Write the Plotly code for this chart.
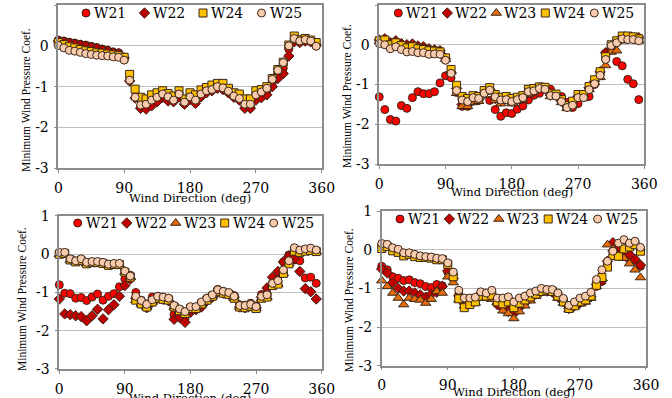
import plotly.graph_objects as go

# ---------------- data ----------------
wind_dir = [0, 7.5, 15, 22.5, 30, 37.5, 45, 52.5, 60, 67.5, 75, 82.5,
            90, 97.5, 105, 112.5, 120, 127.5, 135, 142.5, 150, 157.5, 165, 172.5,
            180, 187.5, 195, 202.5, 210, 217.5, 225, 232.5, 240, 247.5, 255, 262.5,
            270, 277.5, 285, 292.5, 300, 307.5, 315, 322.5, 330, 337.5, 345, 352.5]

x_ticks = [0, 90, 180, 270, 360]
y_ticks = [-3, -2, -1, 0, 1]
y_tick_labels = ["-3", "-2", "-1", "0", "1"]
series_names = ["W21", "W22", "W23", "W24", "W25"]

# Panel 1 (top-left)
p1_W21 = [0.14, 0.12, 0.09, 0.07, 0.04, 0.02, -0.01, -0.04, -0.08, -0.11, -0.15, -0.17, -0.28,
          -0.85, -1.26, -1.48, -1.50, -1.40, -1.32, -1.22, -1.30, -1.35, -1.22, -1.40, -1.28,
          -1.37, -1.22, -1.12, -1.08, -1.02, -1.05, -1.13, -1.24, -1.31, -1.48, -1.48, -1.27,
          -1.20, -1.12, -0.90, -0.70, -0.55, -0.08, 0.12, 0.10, 0.14, 0.11, 0.00]
p1_W22 = [0.11, 0.09, 0.06, 0.04, 0.01, -0.01, -0.04, -0.07, -0.10, -0.13, -0.17, -0.19, -0.30,
          -0.86, -1.28, -1.53, -1.55, -1.47, -1.37, -1.26, -1.35, -1.37, -1.25, -1.43, -1.31,
          -1.41, -1.25, -1.15, -1.10, -1.04, -1.07, -1.15, -1.26, -1.33, -1.53, -1.53, -1.33,
          -1.27, -1.20, -1.00, -0.80, -0.68, -0.25, 0.10, 0.08, 0.12, 0.10, 0.02]
p1_W24 = [0.08, 0.03, -0.02, -0.05, -0.09, -0.12, -0.14, -0.17, -0.18, -0.20, -0.22, -0.24, -0.28,
          -0.70, -1.06, -1.26, -1.30, -1.20, -1.15, -1.10, -1.17, -1.23, -1.10, -1.30, -1.15,
          -1.20, -1.08, -1.02, -0.96, -0.92, -0.92, -1.04, -1.15, -1.18, -1.30, -1.30, -1.10,
          -1.07, -1.00, -0.80, -0.58, -0.40, 0.02, 0.24, 0.15, 0.18, 0.14, 0.08]
p1_W25 = [0.01, -0.05, -0.11, -0.13, -0.16, -0.19, -0.21, -0.23, -0.24, -0.25, -0.27, -0.28, -0.35,
          -0.84, -1.26, -1.45, -1.43, -1.33, -1.26, -1.18, -1.25, -1.33, -1.18, -1.38, -1.25,
          -1.33, -1.18, -1.10, -1.07, -1.00, -1.03, -1.11, -1.23, -1.29, -1.43, -1.43, -1.20,
          -1.13, -1.04, -0.82, -0.60, -0.41, 0.00, 0.18, 0.12, 0.15, 0.12, -0.01]

# Panel 2 (top-right)
p2_W21 = [-1.31, -1.63, -1.88, -1.92, -1.53, -1.60, -1.33, -1.18, -1.23, -1.23, -1.18, -0.96, -0.78,
          -0.83, -1.20, -1.55, -1.55, -1.40, -1.40, -1.20, -1.40, -1.63, -1.80, -1.71, -1.73,
          -1.62, -1.54, -1.39, -1.27, -1.22, -1.12, -1.12, -1.28, -1.30, -1.45, -1.58, -1.48,
          -1.30, -1.30, -1.00, -0.70, -0.21, -0.13, -0.42, -0.53, -0.87, -0.98, -1.38]
p2_W22 = [0.12, 0.15, 0.05, 0.10, 0.03, 0.00, 0.02, -0.03, -0.05, -0.10, -0.13, -0.15, -0.35,
          -0.70, -1.10, -1.50, -1.50, -1.40, -1.38, -1.22, -1.12, -1.35, -1.42, -1.35, -1.42,
          -1.38, -1.33, -1.20, -1.15, -1.08, -1.10, -1.27, -1.27, -1.42, -1.56, -1.48, -1.30,
          -1.30, -1.08, -0.92, -0.68, -0.20, -0.12, 0.05, 0.18, 0.16, 0.16, 0.18]
p2_W23 = [0.08, 0.10, 0.02, 0.06, 0.00, -0.04, -0.02, -0.07, -0.09, -0.12, -0.14, -0.16, -0.36,
          -0.68, -1.22, -1.55, -1.55, -1.45, -1.42, -1.28, -1.15, -1.40, -1.48, -1.42, -1.48,
          -1.42, -1.38, -1.25, -1.20, -1.12, -1.13, -1.30, -1.30, -1.45, -1.60, -1.50, -1.35,
          -1.35, -1.12, -0.95, -0.82, -0.52, -0.18, -0.15, 0.10, 0.12, 0.12, 0.10]
p2_W24 = [0.10, 0.12, 0.00, 0.05, -0.02, -0.08, -0.05, -0.10, -0.12, -0.15, -0.16, -0.18, -0.33,
          -0.62, -1.02, -1.30, -1.35, -1.28, -1.30, -1.15, -1.08, -1.25, -1.32, -1.30, -1.35,
          -1.32, -1.28, -1.12, -1.10, -1.06, -1.07, -1.23, -1.24, -1.38, -1.53, -1.42, -1.25,
          -1.25, -1.05, -0.88, -0.68, -0.30, 0.00, 0.10, 0.22, 0.22, 0.20, 0.15]
p2_W25 = [0.03, 0.00, -0.10, -0.05, -0.12, -0.18, -0.17, -0.20, -0.20, -0.24, -0.23, -0.24, -0.39,
          -0.72, -1.15, -1.39, -1.43, -1.33, -1.35, -1.22, -1.14, -1.31, -1.39, -1.38, -1.43,
          -1.38, -1.33, -1.18, -1.16, -1.10, -1.12, -1.28, -1.29, -1.43, -1.58, -1.52, -1.33,
          -1.33, -1.13, -0.98, -0.77, -0.37, -0.02, 0.05, 0.15, 0.13, 0.13, 0.10]

# Panel 3 (bottom-left)
p3_W21 = [-0.80, -1.02, -1.03, -1.15, -1.13, -1.21, -1.12, -1.04, -1.20, -1.10, -1.03, -0.85, -0.65,
          -0.55, -1.00, -1.20, -1.30, -1.12, -1.10, -1.12, -1.15, -1.58, -1.62, -1.68, -1.45,
          -1.42, -1.28, -1.15, -1.08, -0.92, -0.97, -1.02, -1.08, -1.32, -1.33, -1.28, -1.35,
          -1.05, -1.02, -0.75, -0.60, -0.20, -0.02, -0.15, -0.17, -0.62, -0.60, -0.76]
p3_W22 = [-1.17, -1.56, -1.58, -1.61, -1.63, -1.74, -1.61, -1.44, -1.69, -1.45, -1.32, -1.10, -0.82,
          -0.65, -1.15, -1.28, -1.40, -1.25, -1.15, -1.18, -1.22, -1.70, -1.65, -1.78, -1.52,
          -1.45, -1.38, -1.22, -1.12, -0.98, -1.02, -1.05, -1.12, -1.38, -1.40, -1.32, -1.40,
          -1.12, -0.88, -0.60, -0.45, -0.20, -0.05, -0.12, -0.45, -0.90, -0.98, -1.17]
p3_W23 = [0.00, 0.02, -0.15, -0.20, -0.17, -0.25, -0.22, -0.22, -0.24, -0.29, -0.27, -0.27, -0.47,
          -0.60, -1.20, -1.30, -1.38, -1.25, -1.15, -1.18, -1.20, -1.38, -1.48, -1.55, -1.42,
          -1.42, -1.30, -1.20, -1.10, -0.98, -1.02, -1.05, -1.15, -1.38, -1.40, -1.36, -1.42,
          -1.15, -1.12, -0.82, -0.78, -0.50, -0.25, 0.08, 0.05, 0.08, 0.10, 0.07]
p3_W24 = [0.00, 0.02, -0.15, -0.20, -0.17, -0.25, -0.22, -0.22, -0.24, -0.29, -0.27, -0.27, -0.47,
          -0.60, -1.20, -1.30, -1.38, -1.25, -1.15, -1.18, -1.20, -1.38, -1.48, -1.55, -1.42,
          -1.42, -1.30, -1.20, -1.10, -0.98, -1.02, -1.05, -1.15, -1.38, -1.40, -1.36, -1.42,
          -1.15, -1.12, -0.82, -0.78, -0.50, -0.25, 0.08, 0.05, 0.08, 0.10, 0.07]
p3_W25 = [0.05, 0.05, -0.12, -0.17, -0.12, -0.21, -0.19, -0.19, -0.21, -0.26, -0.24, -0.24, -0.44,
          -0.57, -1.10, -1.21, -1.31, -1.19, -1.10, -1.12, -1.15, -1.34, -1.43, -1.50, -1.37,
          -1.37, -1.25, -1.15, -1.06, -0.93, -0.97, -1.00, -1.10, -1.34, -1.34, -1.31, -1.37,
          -1.10, -1.06, -0.76, -0.69, -0.41, -0.17, 0.17, 0.11, 0.14, 0.16, 0.11]

# Panel 4 (bottom-right)
p4_W21 = [-0.43, -0.52, -0.70, -0.74, -0.80, -0.78, -0.85, -0.88, -0.95, -0.98, -0.90, -0.93, -0.58,
          -0.65, -1.15, -1.30, -1.30, -1.28, -1.15, -1.18, -1.15, -1.35, -1.45, -1.55, -1.62,
          -1.45, -1.30, -1.20, -1.12, -1.05, -1.05, -1.08, -1.18, -1.30, -1.48, -1.42, -1.32,
          -1.25, -1.18, -0.95, -0.82, -0.35, -0.15, -0.05, -0.10, -0.25, -0.27, -0.43]
p4_W22 = [-0.50, -0.60, -0.85, -1.00, -1.07, -1.07, -1.12, -1.17, -1.23, -1.15, -1.10, -0.95, -0.55,
          -0.75, -1.20, -1.40, -1.38, -1.32, -1.18, -1.20, -1.20, -1.42, -1.52, -1.60, -1.65,
          -1.50, -1.38, -1.25, -1.15, -1.08, -1.07, -1.10, -1.22, -1.35, -1.52, -1.45, -1.38,
          -1.32, -1.22, -0.90, -0.80, -0.30, 0.18, 0.05, -0.16, -0.12, -0.25, -0.40]
p4_W23 = [-0.80, -0.95, -1.12, -1.25, -1.42, -1.25, -1.28, -1.30, -1.38, -1.28, -1.08, -1.12, -0.70,
          -0.85, -1.30, -1.45, -1.40, -1.38, -1.25, -1.25, -1.28, -1.35, -1.58, -1.65, -1.78,
          -1.60, -1.45, -1.32, -1.20, -1.10, -1.08, -1.12, -1.25, -1.38, -1.55, -1.48, -1.40,
          -1.35, -1.25, -0.95, -0.75, 0.13, 0.02, -0.20, -0.22, -0.36, -0.52, -0.72]
p4_W24 = [0.03, 0.08, -0.03, -0.07, -0.16, -0.12, -0.18, -0.20, -0.20, -0.22, -0.26, -0.26, -0.38,
          -0.70, -1.27, -1.50, -1.42, -1.35, -1.20, -1.20, -1.18, -1.35, -1.40, -1.35, -1.50,
          -1.38, -1.30, -1.22, -1.15, -1.08, -1.05, -1.08, -1.20, -1.35, -1.52, -1.45, -1.35,
          -1.30, -1.20, -0.92, -0.72, -0.45, -0.15, -0.17, 0.02, 0.07, 0.13, -0.04]
p4_W25 = [0.16, 0.14, 0.05, 0.01, -0.08, -0.08, -0.12, -0.16, -0.18, -0.19, -0.22, -0.23, -0.34,
          -0.58, -1.05, -1.25, -1.25, -1.23, -1.09, -1.12, -1.05, -1.25, -1.25, -1.22, -1.35,
          -1.25, -1.20, -1.12, -1.07, -1.00, -1.03, -1.03, -1.12, -1.26, -1.44, -1.35, -1.25,
          -1.20, -1.10, -0.77, -0.52, -0.30, -0.04, 0.17, 0.26, 0.17, 0.22, 0.06]

panels = [
    {"W21": p1_W21, "W22": p1_W22, "W24": p1_W24, "W25": p1_W25},
    {"W21": p2_W21, "W22": p2_W22, "W23": p2_W23, "W24": p2_W24, "W25": p2_W25},
    {"W21": p3_W21, "W22": p3_W22, "W23": p3_W23, "W24": p3_W24, "W25": p3_W25},
    {"W21": p4_W21, "W22": p4_W22, "W23": p4_W23, "W24": p4_W24, "W25": p4_W25},
]

# ---------------- styling ----------------
W, H = 672, 398
OUTLINE = "#3a2618"
styles = {
    "W21": dict(symbol="circle", color="#FF0000", size=8),
    "W22": dict(symbol="diamond", color="#C00000", size=8),
    "W23": dict(symbol="triangle-up", color="#E46C0A", size=9),
    "W24": dict(symbol="square", color="#FFC000", size=8),
    "W25": dict(symbol="circle", color="#F8CBAD", size=8),
}

x_domains = [[0.0868, 0.4787], [0.5644, 0.9588], [0.0882, 0.4787], [0.5680, 0.9613]]
y_domains = [[0.5771, 0.9874], [0.5879, 0.9874], [0.0729, 0.4573], [0.0812, 0.4698]]
# legend layout in pixels: first symbol centre x, pitch between entries, centre y
legend_px = [(86, 58.5, 13), (398.3, 49, 13), (77.7, 49, 223), (400, 49.4, 219)]
IND = -15          # legend indentation -> symbol centre sits 5px into each entry
SYM_OFF = 20 + IND
TEXT_GAP = 30 + 10 + IND

xtitle_px = [(190, 198), (512, 192), (190, 398), (514, 391.5)]
ytitle_px = [(26, 100), (347, 96), (22, 299), (349, 300)]

SERIF = "DejaVu Serif"
fig = go.Figure()

for i, pdata in enumerate(panels):
    n = "" if i == 0 else str(i + 1)
    lg = "legend" + n
    for name in series_names:
        if name not in pdata:
            continue
        st = styles[name]
        fig.add_trace(go.Scatter(
            x=wind_dir, y=pdata[name], mode="markers", name=name,
            xaxis="x" + n, yaxis="y" + n, legend=lg,
            marker=dict(symbol=st["symbol"], color=st["color"], size=st["size"],
                        line=dict(color=OUTLINE, width=1)),
            cliponaxis=False,
        ))

layout = dict(
    template="none",
    width=W, height=H,
    margin=dict(l=0, r=0, t=0, b=0, autoexpand=False),
    paper_bgcolor="white", plot_bgcolor="white",
    font=dict(family=SERIF, color="#000000"),
    annotations=[],
    hovermode=False,
)

axis_common = dict(
    showline=True, mirror=True, linecolor="#8C8C8C", linewidth=1.5,
    ticks="outside", ticklen=3, tickwidth=1, tickcolor="#8C8C8C",
    tickfont=dict(family=SERIF, size=14, color="#000000"),
    zeroline=False, automargin=False,
)

for i in range(4):
    n = "" if i == 0 else str(i + 1)
    layout["xaxis" + n] = dict(
        domain=x_domains[i], anchor="y" + n, range=[0, 360],
        tickmode="array", tickvals=x_ticks, showgrid=False, ticklabelstandoff=3,
        **axis_common,
    )
    layout["yaxis" + n] = dict(
        domain=y_domains[i], anchor="x" + n, range=[-3, 1],
        tickmode="array", tickvals=y_ticks, ticktext=y_tick_labels,
        showgrid=True, gridcolor="#BFBFBF", gridwidth=1.3, ticklabelstandoff=2,
        **axis_common,
    )
    sx, pitch, sy = legend_px[i]
    layout["legend" + n] = dict(
        orientation="h", x=(sx - SYM_OFF) / W, y=1 - sy / H, xanchor="left", yanchor="middle",
        bgcolor="rgba(0,0,0,0)", borderwidth=0,
        font=dict(family=SERIF, size=1, color="rgba(0,0,0,0)"),
        indentation=IND, entrywidth=pitch - TEXT_GAP - 5, entrywidthmode="pixels",
        itemclick=False, itemdoubleclick=False,
    )
    # legend labels placed right after each legend symbol
    for k, name in enumerate([s for s in series_names if s in panels[i]]):
        layout["annotations"].append(dict(
            text=name, xref="paper", yref="paper",
            x=(sx + k * pitch + 6) / W, y=1 - sy / H,
            xanchor="left", yanchor="middle", showarrow=False,
            font=dict(family=SERIF, size=14, color="#000000"),
        ))
    tx, ty = xtitle_px[i]
    layout["annotations"].append(dict(
        text="Wind Direction (deg)", xref="paper", yref="paper", x=tx / W, y=1 - ty / H,
        xanchor="center", yanchor="middle", showarrow=False,
        font=dict(family=SERIF, size=11.5, color="#000000"),
    ))
    vx, vy = ytitle_px[i]
    layout["annotations"].append(dict(
        text="Minimum Wind Pressure Coef.", xref="paper", yref="paper", x=vx / W, y=1 - vy / H,
        xanchor="center", yanchor="middle", showarrow=False, textangle=-90,
        font=dict(family="Liberation Serif", size=11.5, color="#000000"),
    ))

fig.update_layout(**layout)
# remove the browser's default page margin so the figure sits at the window's top-left corner
fig.write_html("out.html",
               config={"displayModeBar": False, "staticPlot": False},
               post_script="document.body.style.margin='0';document.body.style.padding='0';")
